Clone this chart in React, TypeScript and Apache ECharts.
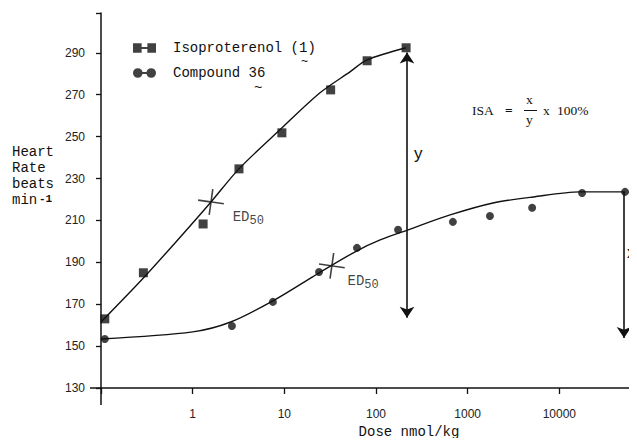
import React, { useEffect, useRef } from "react";
import * as echarts from "echarts";

// ---- data ----
const isoDose = [0.11, 0.29, 1.3, 3.2, 9.4, 32, 80, 213];
const isoHR = [163, 185, 208.3, 234.6, 251.8, 272.3, 286.2, 292.4];
const isoCurveDose = [0.1, 0.29, 0.73, 1.585, 3.2, 9.44, 24.5, 52, 80, 213];
const isoCurveHR = [161.5, 182.5, 202, 218.8, 234.6, 254.2, 270.9, 280.9, 286.6, 292.4];

const cmpDose = [0.11, 2.68, 7.5, 23.9, 62, 174, 690, 1750, 5050, 17700, 52100];
const cmpHR = [153.4, 159.6, 171.1, 185.4, 196.9, 205.5, 209.3, 212.1, 216, 223.1, 223.6];
const cmpCurveDose = [0.1, 1.0, 2.6, 7.5, 24, 62, 111, 224, 643, 1890, 5180, 16800, 52100];
const cmpCurveHR = [153.4, 156.8, 161.5, 171.6, 185, 195.5, 200.7, 205.5, 212.6, 218.3, 221.2, 223.6, 223.6];

const ed50Dose = [1.585, 33];
const ed50HR = [218.8, 188.3];

// arrows: [dose, top HR, bottom HR]
const yArrow = [218, 290.2, 163.5];
const xArrow = [50800, 223.6, 153.9];

const xTickLabels = [1, 10, 100, 1000, 10000];
const yTickLabels = [130, 150, 170, 190, 210, 230, 250, 270, 290];
const yTickMarks = [130, 150, 170, 190, 210, 230, 250, 270, 290, 309];

const ISO = "Isoproterenol (1)";
const CMP = "Compound 36";
const yTitleLines = ["Heart", "Rate", "beats", "min"];

const MONO = "'Liberation Mono', 'DejaVu Sans Mono', monospace";
const HAND = "'Liberation Sans', 'DejaVu Sans', sans-serif";
const SERIF = "'Liberation Serif', 'DejaVu Serif', serif";
const INK = "#111";

const zip = (a: number[], b: number[]) => a.map((v, i) => [v, b[i]]);

export default function App() {
  const ref = useRef<HTMLDivElement>(null);
  useEffect(() => {
    if (!ref.current) return;
    const chart = echarts.init(ref.current, null, { renderer: "svg" });
    const crossPath =
      "path://M12.2,0H13.8V12.2H26V13.8H13.8V26H12.2V13.8H0V12.2H12.2Z";
    const option: any = {
      animation: false,
      backgroundColor: "#fff",
      grid: { left: 101, top: 13, right: -14, bottom: 58, outerBoundsMode: "none", containLabel: false },
      legend: {
        left: 128,
        top: 36,
        orient: "vertical",
        itemWidth: 23,
        itemHeight: 10,
        itemGap: 11,
        selectedMode: false,
        textStyle: {
          fontFamily: MONO,
          fontSize: 14,
          color: INK,
          padding: [0, 0, 0, 12],
        },
        data: [
          {
            name: ISO,
            icon: "path://M0,0H9V10H0Z M9,4H15V6H9Z M15,0H24V10H15Z",
          },
          {
            name: CMP,
            icon:
              "path://M0,5A5,5 0 1,1 10,5A5,5 0 1,1 0,5Z M9,4H15V6H9Z M14,5A5,5 0 1,1 24,5A5,5 0 1,1 14,5Z",
          },
        ],
      },
      xAxis: {
        type: "log",
        logBase: 10,
        min: 0.1,
        max: 100000,
        splitLine: { show: false },
        axisLine: { lineStyle: { color: INK, width: 1.5 } },
        axisTick: { length: 6, lineStyle: { color: INK, width: 1.3 } },
        axisLabel: {
          margin: 20,
          fontFamily: HAND,
          fontSize: 12,
          color: "#222",
          formatter: (v: number) => {
            const r = Math.round(v);
            return xTickLabels.includes(r) && Math.abs(v - r) < 1e-6 * Math.max(1, r)
              ? String(r)
              : "";
          },
        },
        name: "Dose nmol/kg",
        nameLocation: "middle",
        nameGap: 37,
        nameTextStyle: {
          fontFamily: MONO,
          fontSize: 14,
          color: INK,
          padding: [0, 0, 0, 66],
        },
      },
      yAxis: {
        type: "value",
        min: 130,
        max: 309,
        splitLine: { show: false },
        axisLine: { show: true, lineStyle: { color: INK, width: 1.5 } },
        axisTick: {
          show: true,
          length: 5,
          customValues: yTickMarks,
          lineStyle: { color: INK, width: 1.3 },
        },
        axisLabel: {
          margin: 16,
          fontFamily: HAND,
          fontSize: 12,
          color: "#222",
          customValues: yTickLabels,
        },
      },
      series: [
        {
          name: ISO + " fit",
          type: "line",
          smooth: 0.3,
          showSymbol: false,
          symbol: "none",
          silent: true,
          lineStyle: { color: INK, width: 1.4 },
          data: zip(isoCurveDose, isoCurveHR),
          z: 2,
          markLine: {
            silent: true,
            symbolSize: 11,
            label: { show: false },
            lineStyle: { color: INK, width: 1.6, type: "solid" },
            data: [
              [
                { coord: [yArrow[0], yArrow[1]], symbol: "arrow" },
                { coord: [yArrow[0], yArrow[2]], symbol: "arrow" },
              ],
            ],
          },
        },
        {
          name: ISO,
          type: "scatter",
          symbol: "rect",
          symbolSize: 9,
          itemStyle: { color: INK },
          data: zip(isoDose, isoHR),
          z: 3,
        },
        {
          name: CMP + " fit",
          type: "line",
          smooth: 0.3,
          showSymbol: false,
          symbol: "none",
          silent: true,
          lineStyle: { color: INK, width: 1.4 },
          data: zip(cmpCurveDose, cmpCurveHR),
          z: 2,
          markLine: {
            silent: true,
            symbolSize: 11,
            label: { show: false },
            lineStyle: { color: INK, width: 1.6, type: "solid" },
            data: [
              [
                { coord: [xArrow[0], xArrow[1]], symbol: "none" },
                { coord: [xArrow[0], xArrow[2]], symbol: "arrow" },
              ],
            ],
          },
        },
        {
          name: CMP,
          type: "scatter",
          symbol: "circle",
          symbolSize: 8,
          itemStyle: { color: INK },
          data: zip(cmpDose, cmpHR),
          z: 3,
        },
        {
          name: "ED50",
          type: "scatter",
          symbol: crossPath,
          symbolSize: 26,
          symbolRotate: -8,
          itemStyle: { color: INK },
          z: 4,
          label: {
            show: true,
            position: "right",
            formatter: "{a|ED}{b|50}",
            rich: {
              a: { fontFamily: MONO, fontSize: 14, color: INK },
              b: { fontFamily: MONO, fontSize: 12, color: INK, padding: [9, 0, 0, 0] },
            },
          },
          data: [
            { value: [ed50Dose[0], ed50HR[0]], label: { offset: [2, 15] } },
            { value: [ed50Dose[1], ed50HR[1]], label: { offset: [-4, 15] } },
          ],
        },
      ],
      graphic: [
        // axis extensions
        { type: "line", shape: { x1: 90, y1: 388, x2: 101, y2: 388 }, style: { stroke: INK, lineWidth: 1.5 } },
        { type: "line", shape: { x1: 101, y1: 388, x2: 101, y2: 405 }, style: { stroke: INK, lineWidth: 1.5 } },
        // y axis title, one text per line
        ...yTitleLines.map((t, i) => ({
          type: "text",
          x: 12,
          y: 145 + i * 16,
          style: { text: t, fontFamily: MONO, fontSize: 14, fill: INK },
        })),
        {
          type: "text",
          x: 39,
          y: 193,
          style: { text: "-1", fontFamily: MONO, fontSize: 11, fontWeight: "bold", fill: INK },
        },
        // tildes under legend numbers
        { type: "text", x: 301, y: 56, style: { text: "~", fontFamily: MONO, fontSize: 12, fill: INK } },
        { type: "text", x: 254, y: 81, style: { text: "~", fontFamily: MONO, fontSize: 14, fill: INK } },
        // ISA formula
        { type: "text", x: 472, y: 103, style: { text: "ISA", fontFamily: SERIF, fontSize: 13.5, fill: INK } },
        { type: "text", x: 505, y: 103, style: { text: "=", fontFamily: SERIF, fontSize: 13.5, fontWeight: "bold", fill: INK } },
        { type: "text", x: 526, y: 92, style: { text: "x", fontFamily: SERIF, fontSize: 13.5, fill: INK } },
        { type: "line", shape: { x1: 524, y1: 110.5, x2: 537, y2: 110.5 }, style: { stroke: INK, lineWidth: 1 } },
        { type: "text", x: 526, y: 112, style: { text: "y", fontFamily: SERIF, fontSize: 13.5, fill: INK } },
        { type: "text", x: 543, y: 103, style: { text: "x", fontFamily: SERIF, fontSize: 13.5, fill: INK } },
        { type: "text", x: 557, y: 103, style: { text: "100%", fontFamily: SERIF, fontSize: 13.5, fill: INK } },
        // arrow labels
        { type: "text", x: 414, y: 145, style: { text: "y", fontFamily: HAND, fontSize: 17, fill: INK } },
        { type: "text", x: 627, y: 244, style: { text: "x", fontFamily: HAND, fontSize: 16, fill: INK } },
      ],
    };
    chart.setOption(option);
    return () => chart.dispose();
  }, []);
  return <div ref={ref} style={{ width: 637, height: 446, margin: -8 }} />;
}
